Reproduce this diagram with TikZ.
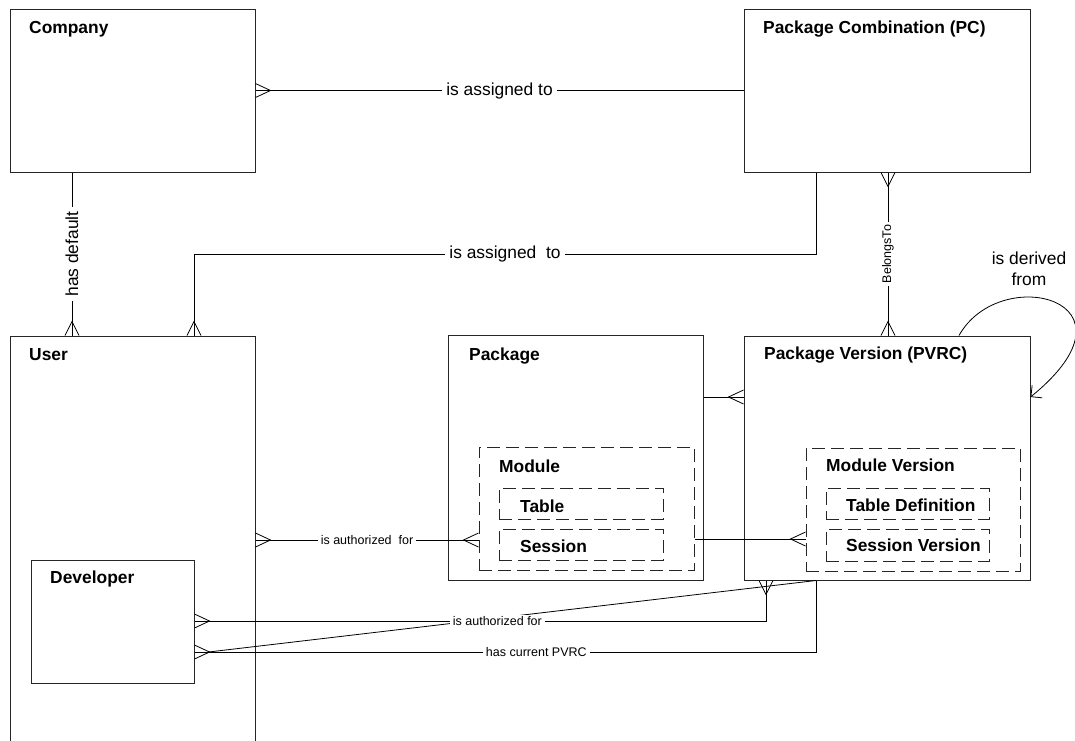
\documentclass[tikz,border=0pt]{standalone}
\usepackage{fontspec}
\setmainfont{Liberation Sans}
\usetikzlibrary{calc,arrows.meta}
\newcommand\ebox[6][box]{\node[#1, minimum width={#5-#3}, minimum height={#6-#4}] (#2) at ({(#3+#5)/2},{(#4+#6)/2}) {};}
\newcommand\crR[1]{\draw[conn] ($(#1)+(0,-7)$) -- ($(#1)+(15,0)$) -- ($(#1)+(0,7)$);}
\newcommand\crL[1]{\draw[conn] ($(#1)+(0,-7)$) -- ($(#1)+(-15,0)$) -- ($(#1)+(0,7)$);}
\newcommand\crU[1]{\draw[conn] ($(#1)+(-7,0)$) -- ($(#1)+(0,-14)$) -- ($(#1)+(7,0)$);}
\newcommand\crD[1]{\draw[conn] ($(#1)+(-7,0)$) -- ($(#1)+(0,14)$) -- ($(#1)+(7,0)$);}
\begin{document}
\begin{tikzpicture}[x=1pt,y=-1pt,
  box/.style={draw=black!85, line width=1pt, inner sep=0pt},
  dbox/.style={draw=black!85, line width=1pt, dash pattern=on 13pt off 6pt, inner sep=0pt},
  conn/.style={draw=black, line width=0.8pt},
  ttl/.style={font=\fontsize{17.4}{20}\selectfont\bfseries, anchor=base west, inner sep=0pt},
  lbl/.style={font=\fontsize{17.4}{20}\selectfont, fill=white, inner xsep=4pt, inner ysep=1pt},
  slbl/.style={font=\fontsize{12.5}{14}\selectfont, fill=white, inner xsep=3pt, inner ysep=1pt},
]
\useasboundingbox (0,0) rectangle (1075,740);
\clip (0,0) rectangle (1075,740);

% entities
\ebox{company}{10}{9}{255}{172}
\ebox{pc}{744}{9}{1030}{172}
\ebox{user}{10}{336}{255}{770}
\ebox{package}{448}{335}{703}{580}
\ebox{pvrc}{744}{336}{1030}{580}
\ebox[dbox]{module}{479}{447}{694}{570}
\ebox[dbox]{table}{499}{488}{663}{519}
\ebox[dbox]{session}{499}{529}{663}{560}
\ebox[dbox]{mver}{806}{448}{1020}{571}
\ebox[dbox]{tdef}{826}{488}{989}{519}
\ebox[dbox]{sver}{826}{529}{989}{561}
\ebox{developer}{31}{560}{194}{683}

% titles
\node[ttl] (companyT) at (29,33.2) {Company};
\node[ttl] (pcT) at (763,33.2) {Package Combination (PC)};
\node[ttl] (userT) at (29,360) {User};
\node[ttl] (packageT) at (469,360) {Package};
\node[ttl] (pvrcT) at (764,359.5) {Package Version (PVRC)};
\node[ttl] (moduleT) at (499,472) {Module};
\node[ttl] (tableT) at (520,512.5) {Table};
\node[ttl] (sessionT) at (520,552.5) {Session};
\node[ttl] (mverT) at (826,471.5) {Module Version};
\node[ttl] (tdefT) at (846,511.5) {Table Definition};
\node[ttl] (sverT) at (846,551.5) {Session Version};
\node[ttl] (developerT) at (50,583.5) {Developer};

% Company - PC
\draw[conn] (company.east) -- node[lbl]{is assigned to} (pc.west);
\crR{company.east}

% has default
\coordinate (hdx) at (72,0);
\coordinate (hd1) at (company.south -| hdx);
\coordinate (hd2) at (user.north -| hdx);
\draw[conn] (hd1) -- node[lbl,rotate=90]{has default} (hd2);
\crU{hd2}

% PC - User
\coordinate (s1) at (816,254);
\coordinate (s2) at (194,254);
\coordinate (s0) at (pc.south -| s1);
\coordinate (s3) at (user.north -| s2);
\draw[conn] (s0) -- (s1) -- node[lbl]{is assigned\ \ to} (s2) -- (s3);
\crU{s3}

% BelongsTo
\coordinate (bx) at (888,0);
\coordinate (b1) at (pc.south -| bx);
\coordinate (b2) at (pvrc.north -| bx);
\draw[conn] (b1) -- node[slbl,rotate=90]{BelongsTo} (b2);
\crD{b1}
\crU{b2}

% is derived from
\coordinate (dx) at (959,0);
\coordinate (dy) at (0,397);
\coordinate (d1) at (pvrc.north -| dx);
\coordinate (d2) at (pvrc.east |- dy);
\draw[conn,-{Straight Barb[length=8pt,width=16pt]}] (d1) .. controls (1000,262) and (1150,300) .. (d2);
\node[font=\fontsize{17.4}{21}\selectfont, align=center, inner sep=0pt] (derived) at (1029,269) {is derived\\from};

% Package - PVRC
\coordinate (p0) at (0,397);
\coordinate (p1) at (package.east |- p0);
\coordinate (p2) at (pvrc.west |- p0);
\draw[conn] (p1) -- (p2);
\crL{p2}

% Module - Module Version
\coordinate (m0) at (0,539);
\coordinate (m1) at (module.east |- m0);
\coordinate (m2) at (mver.west |- m0);
\draw[conn] (m1) -- (m2);
\crL{m2}

% User - Module
\coordinate (u0) at (0,540);
\coordinate (u1) at (user.east |- u0);
\coordinate (u2) at (module.west |- u0);
\draw[conn] (u1) -- node[slbl]{is authorized\ \ for} (u2);
\crR{u1}
\crL{u2}

% Developer - PVRC (diagonal)
\coordinate (k0) at (816,652);
\coordinate (k1) at (pvrc.south -| k0);
\coordinate (k2) at (developer.east |- k0);
\draw[conn] (k1) -- ($(k2)+(14,0)$);

% Developer - PVRC (is authorized for)
\coordinate (a0) at (766,621);
\coordinate (a1) at (developer.east |- a0);
\coordinate (a2) at (pvrc.south -| a0);
\draw[conn] (a1) -- node[slbl,pos=0.53]{is authorized for\ } (a0) -- (a2);
\crR{a1}
\crD{a2}

% has current PVRC
\draw[conn] (k2) -- node[slbl,pos=0.55]{has current PVRC\ } (k0) -- (k1);
\crR{k2}
\end{tikzpicture}
\end{document}
